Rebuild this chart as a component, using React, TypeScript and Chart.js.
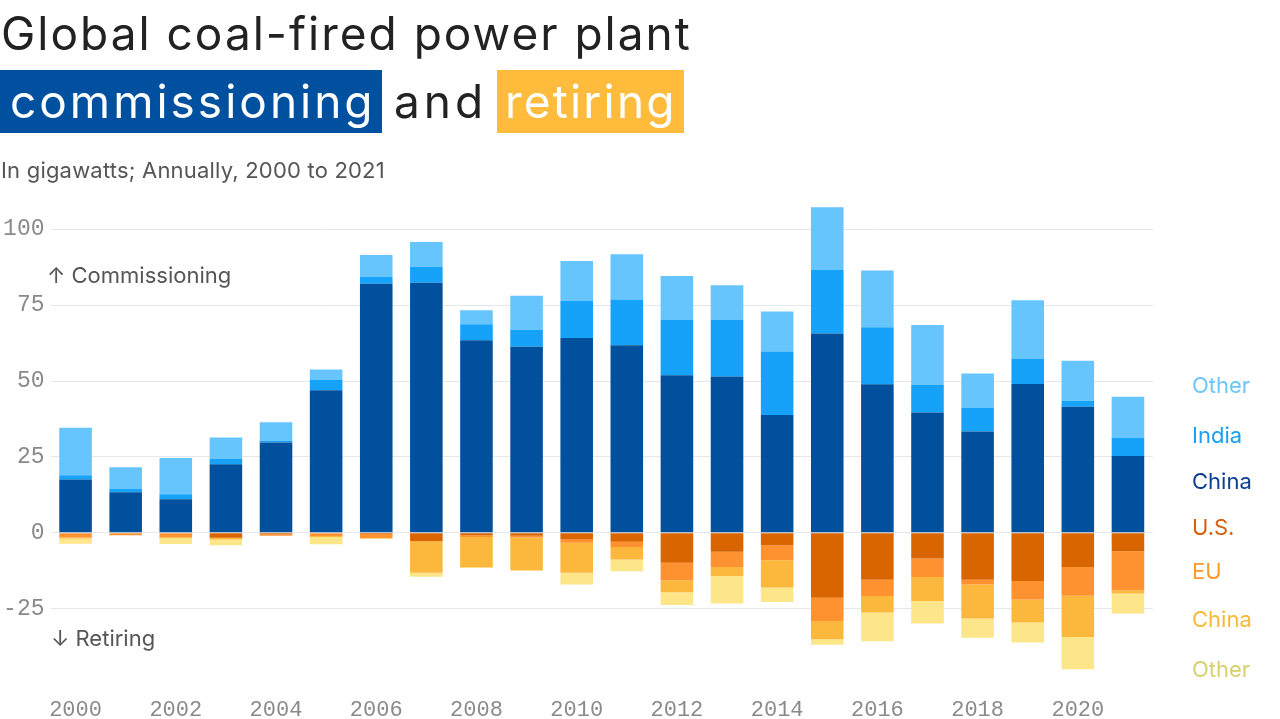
import React, { useEffect, useRef } from "react";
import { Chart, registerables } from "chart.js";

Chart.register(...registerables);

const years = ["2000","2001","2002","2003","2004","2005","2006","2007","2008","2009","2010","2011","2012","2013","2014","2015","2016","2017","2018","2019","2020","2021"];

// Commissioning (GW)
const commChina = [17.5,13.3,11.0,22.6,29.7,47.0,82.1,82.4,63.4,61.3,64.2,61.8,51.9,51.5,38.8,65.7,48.9,39.6,33.4,49.0,41.5,25.3];
const commIndia = [1.4,1.1,1.7,1.7,0.6,3.3,2.3,5.3,5.3,5.6,12.3,15.1,18.2,18.6,20.9,20.9,18.8,9.1,7.7,8.3,2.0,5.9];
const commOther = [15.7,7.2,11.9,7.1,6.1,3.5,7.1,8.1,4.6,11.2,13.1,14.9,14.5,11.5,13.2,20.7,18.7,19.8,11.4,19.3,13.2,13.6];

// Retiring (GW, negative)
const retUS = [-0.3,-0.2,-0.3,-1.7,-0.5,-0.3,-0.4,-2.8,-0.8,-1.0,-2.1,-3.0,-9.9,-6.3,-4.1,-21.4,-15.5,-8.5,-15.5,-15.9,-11.3,-6.1];
const retEU = [-1.3,-0.6,-1.2,0,-0.5,-0.8,-1.4,0,-0.6,-0.6,-1.2,-1.7,-5.8,-5.0,-5.0,-7.7,-5.4,-6.1,-1.6,-6.1,-9.5,-12.9];
const retChina = [-0.3,0,-0.3,-0.5,0,-0.3,0,-10.4,-10.0,-10.8,-9.9,-4.1,-3.9,-3.0,-9.0,-6.0,-5.4,-7.9,-11.2,-7.6,-13.6,-1.0];
const retOther = [-1.7,0,-1.9,-1.9,0,-2.4,-0.3,-1.3,-0.2,-0.2,-3.9,-3.9,-4.2,-9.0,-4.7,-1.8,-9.5,-7.4,-6.3,-6.6,-10.6,-6.6];

const yTicks = [-25, 0, 25, 50, 75, 100];

const C_CHINA = "#00509d";
const C_INDIA = "#17a2fa";
const C_OTHER = "#66c5fc";
const R_US = "#d96500";
const R_EU = "#ff9230";
const R_CHINA = "#fbb83c";
const R_OTHER = "#fde68a";

const legendItems = [
  { label: "Other", color: "#6ac6fb", y: 385 },
  { label: "India", color: "#1a9ff4", y: 435 },
  { label: "China", color: "#0b3f8f", y: 481 },
  { label: "U.S.", color: "#d3620b", y: 527 },
  { label: "EU", color: "#fd9a2c", y: 571 },
  { label: "China", color: "#f9b935", y: 619 },
  { label: "Other", color: "#d8d06c", y: 669 },
];

export default function App() {
  const ref = useRef<HTMLCanvasElement | null>(null);

  useEffect(() => {
    if (!ref.current) return;
    const mk = (label: string, data: number[], color: string) => ({
      label,
      data,
      backgroundColor: color,
      borderWidth: 0,
      stack: "s",
      categoryPercentage: 1,
      barPercentage: 0.65,
    });
    const chart = new Chart(ref.current, {
      type: "bar",
      data: {
        labels: years,
        datasets: [
          mk("China", commChina, C_CHINA),
          mk("India", commIndia, C_INDIA),
          mk("Other", commOther, C_OTHER),
          mk("U.S.", retUS, R_US),
          mk("EU", retEU, R_EU),
          mk("China retiring", retChina, R_CHINA),
          mk("Other retiring", retOther, R_OTHER),
        ],
      },
      options: {
        responsive: false,
        animation: false,
        devicePixelRatio: 1,
        layout: { padding: { left: 0, right: 127, top: 199, bottom: 0 } },
        plugins: { legend: { display: false }, tooltip: { enabled: false } },
        scales: {
          x: {
            stacked: true,
            grid: { display: false },
            border: { display: false },
            ticks: {
              autoSkip: false,
              maxRotation: 0,
              padding: 5,
              color: "#8a8a8a",
              font: { family: "'Liberation Mono', 'DejaVu Sans Mono', monospace", size: 22 },
              callback: (v: any, i: number) => (i % 2 === 0 ? years[i] : ""),
            },
            afterFit: (s: any) => { s.height = 34.6; },
          },
          y: {
            stacked: true,
            min: -50,
            max: 110,
            grid: { color: "#e6e6eb", lineWidth: 1, drawTicks: false },
            border: { display: false },
            ticks: {
              padding: 6,
              color: "#8a8a8a",
              font: { family: "'Liberation Mono', 'DejaVu Sans Mono', monospace", size: 23 },
            },
            afterBuildTicks: (s: any) => { s.ticks = yTicks.map((v) => ({ value: v })); },
            afterFit: (s: any) => { s.width = 50.5; },
          },
        },
      },
    });
    return () => chart.destroy();
  }, []);

  const sans = "Inter, 'Noto Sans', sans-serif";
  return (
    <div style={{ position: "fixed", left: 0, top: 0, width: 1280, height: 719, background: "#fff", overflow: "hidden", fontFamily: sans }}>
      <canvas ref={ref} width={1280} height={719} style={{ position: "absolute", left: 0, top: 0, width: 1280, height: 719 }} />
      <div style={{ position: "absolute", left: 1, top: 5, fontSize: 46, color: "#222", whiteSpace: "nowrap", lineHeight: "56px", letterSpacing: 2 }}>
        Global coal-fired power plant
      </div>
      <div style={{ position: "absolute", left: 0, top: 70, height: 63, width: 382, background: "#0050a0" }} />
      <div style={{ position: "absolute", left: 497, top: 70, height: 63, width: 187, background: "#ffbb3c" }} />
      <div style={{ position: "absolute", left: 10, top: 72, fontSize: 46, color: "#fff", whiteSpace: "nowrap", lineHeight: "58px", letterSpacing: 3 }}>
        commissioning
      </div>
      <div style={{ position: "absolute", left: 394, top: 72, fontSize: 46, color: "#222", whiteSpace: "nowrap", lineHeight: "58px", letterSpacing: 4 }}>
        and
      </div>
      <div style={{ position: "absolute", left: 505, top: 72, fontSize: 46, color: "#fff", whiteSpace: "nowrap", lineHeight: "58px", letterSpacing: 2.2 }}>
        retiring
      </div>
      <div style={{ position: "absolute", left: 1, top: 156, fontSize: 22, color: "#555", whiteSpace: "nowrap", lineHeight: "28px", letterSpacing: 0.2 }}>
        In gigawatts; Annually, 2000 to 2021
      </div>
      <div style={{ position: "absolute", left: 47, top: 262, fontSize: 22, color: "#555", whiteSpace: "nowrap", lineHeight: "26px" }}>
        ↑ Commissioning
      </div>
      <div style={{ position: "absolute", left: 51, top: 625, fontSize: 22, color: "#555", whiteSpace: "nowrap", lineHeight: "26px" }}>
        ↓ Retiring
      </div>
      {legendItems.map((it, i) => (
        <div key={i} style={{ position: "absolute", left: 1192, top: it.y - 13, fontSize: 22, color: it.color, whiteSpace: "nowrap", lineHeight: "26px" }}>
          {it.label}
        </div>
      ))}
    </div>
  );
}
